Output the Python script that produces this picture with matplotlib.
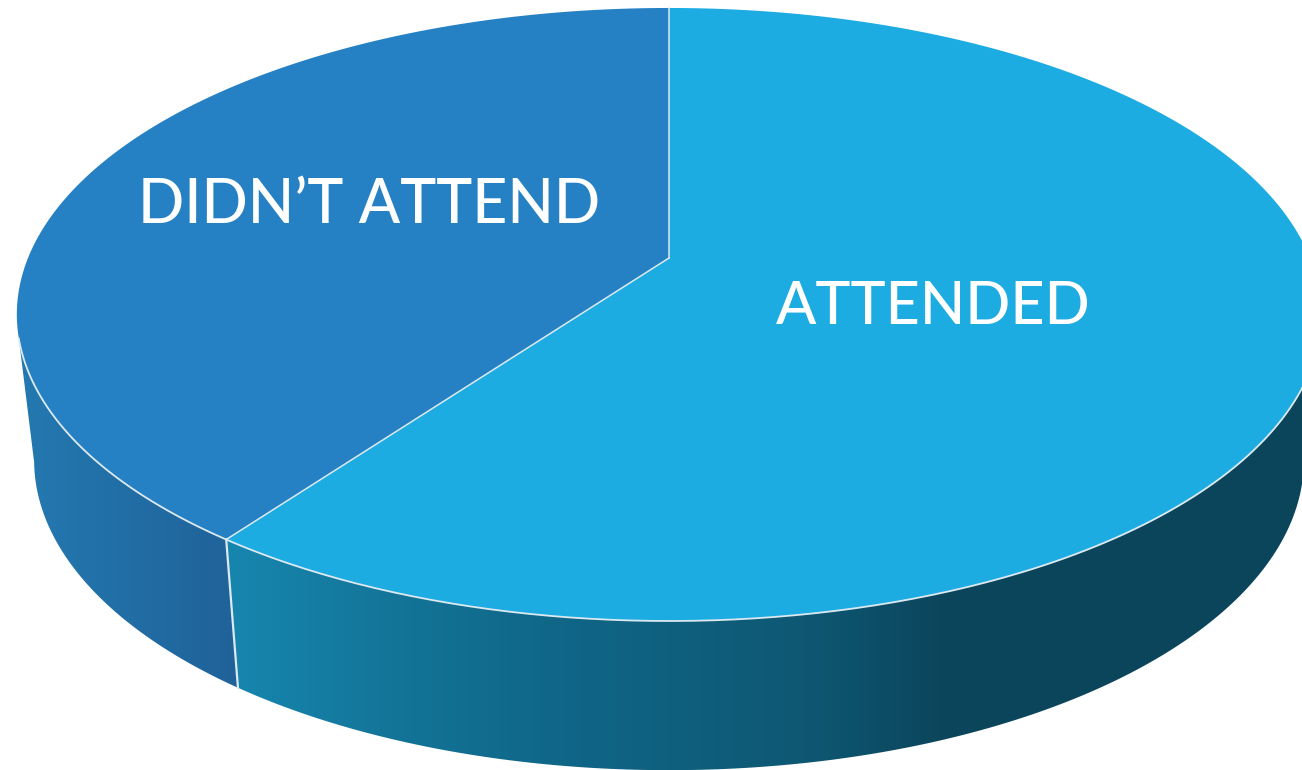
"""
3D looking pie chart, attended vs didn't attend
"""
import numpy as np
import matplotlib
matplotlib.use("Agg")
import matplotlib.pyplot as plt
from matplotlib.colors import LinearSegmentedColormap
from matplotlib.patches import Polygon

labels = ["ATTENDED", "DIDN\u2019T ATTEND"]
values = [60, 40]

top_colors = ["#1CACE2", "#2581C4"]
line_color = "#DCE9F0"

# wall gradients, colour by pixel column
wall_x = [[226, 400, 530, 800, 950, 1302], [0, 18, 240]]
wall_colors = [["#1786AF", "#137497", "#10688A", "#0E5874", "#0B455B", "#0B455B"],
               ["#2479B1", "#2479B1", "#1F6299"]]

# disc projection: centre x, centre y, half width, half height, perspective
top_disc = (669, 258, 641, 296.1, 0.1843)
bottom_disc = (669, 403, 624, 299.5, 0.1843)


def project(disc, angles):
    # angle in degrees, clockwise from the top of the pie
    cx, cy, a, b, k = disc
    t = np.radians(angles)
    xx = np.sin(t)
    yy = np.cos(t)
    return cx + a * xx / (1 + k * yy), cy - b * yy / (1 + k * yy)


def arc(disc, start, stop):
    return np.column_stack(project(disc, np.linspace(start, stop, 300)))


fig = plt.figure(figsize=(13.02, 7.7), dpi=100)
ax = fig.add_axes([0, 0, 1, 1])
ax.axis("off")

split = 360 * values[0] / sum(values)

# side walls, only the front part of the pie can be seen
wall_parts = [(105, split, 101, split), (split, 255, split, 259)]
for i, part in enumerate(wall_parts):
    pts = np.vstack([arc(top_disc, part[0], part[1]),
                     arc(bottom_disc, part[3], part[2])])
    poly = Polygon(pts, closed=True, fc="none", ec="none")
    ax.add_patch(poly)
    x0, x1 = wall_x[i][0], wall_x[i][-1]
    pos = [(x - x0) / (x1 - x0) for x in wall_x[i]]
    cmap = LinearSegmentedColormap.from_list("wall", list(zip(pos, wall_colors[i])))
    grad = np.linspace(0, 1, 512).reshape(1, -1)
    im = ax.imshow(grad, cmap=cmap, extent=(x0, x1, 780, 0), aspect="auto", zorder=1)
    im.set_clip_path(poly)

# top of the pie
start = 0
for i, v in enumerate(values):
    stop = start + 360 * v / sum(values)
    pts = np.vstack([[top_disc[0], top_disc[1]], arc(top_disc, start, stop)])
    ax.add_patch(Polygon(pts, closed=True, fc=top_colors[i], ec="none", zorder=2))
    start = stop

# thin light lines
edge = arc(top_disc, 105, 255)
ax.plot(edge[:, 0], edge[:, 1], color=line_color, lw=1.3, zorder=3)
for ang in [0, split]:
    px, py = project(top_disc, ang)
    ax.plot([top_disc[0], px], [top_disc[1], py], color=line_color, lw=1.1, zorder=3)
px, py = project(top_disc, split)
qx, qy = project(bottom_disc, split)
ax.plot([px, qx], [py, qy], color=line_color, lw=1.6, zorder=3)

ax.text(933, 324, labels[0], color="white", fontsize=42.7, family="Lato",
        weight="medium", ha="center", va="baseline", zorder=4)
ax.text(369, 223, labels[1], color="white", fontsize=43.8, family="Lato",
        weight="medium", ha="center", va="baseline", zorder=4)

ax.set_xlim(0, 1302)
ax.set_ylim(770, 0)

fig.savefig("out.png", dpi=100)
